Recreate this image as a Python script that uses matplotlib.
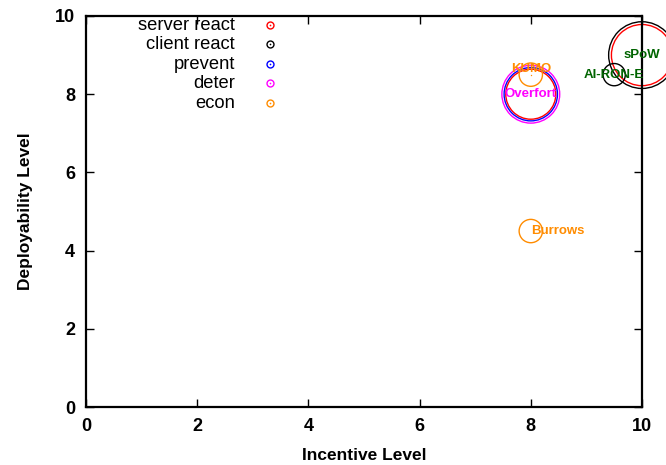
import matplotlib
matplotlib.use('Agg')
import matplotlib.pyplot as plt
from matplotlib.patches import Ellipse

plt.rcParams['font.family'] = ['Liberation Sans', 'DejaVu Sans']

# Series: centres (incentive, deployability) and circle radius in x units
series_names = ['server react', 'client react', 'prevent', 'deter', 'econ']
series_colors = ['#ff0000', '#000000', '#0000ff', '#ff00ff', '#ff8c00']
series_x = [[10, 8], [10, 9.5], [8], [8], [8, 8]]
series_y = [[9, 8], [9, 8.5], [8], [8], [8.5, 4.5]]
series_r = [[0.55, 0.45], [0.6, 0.2], [0.48], [0.52], [0.21, 0.21]]

# Point labels
label_text = ['KUMO', 'Overfort', 'Burrows', 'sPoW', 'AI-RON-E']
label_x = [8, 8, 8, 10, 9.5]
label_y = [8.65, 8, 4.5, 9, 8.5]
label_color = ['#ff8c00', '#ff00ff', '#ff8c00', '#006400', '#006400']
label_ha = ['center', 'center', 'left', 'center', 'center']

W, H = 666, 465
fig = plt.figure(figsize=(W / 100, H / 100), dpi=100)
ax = fig.add_axes([86 / W, (H - 407) / H, (642 - 86) / W, (407 - 16) / H])
ax.set_xlim(0, 10)
ax.set_ylim(0, 10)

# keep circles round on screen: radius measured in x units
px_x = (642 - 86) / 10
px_y = (407 - 16) / 10
for name, col, xs, ys, rs in zip(series_names, series_colors, series_x, series_y, series_r):
    for x, y, r in zip(xs, ys, rs):
        ax.add_patch(Ellipse((x, y), 2 * r, 2 * r * px_x / px_y, fill=False,
                             edgecolor=col, lw=1, clip_on=False))

# small centre dot of the KUMO circle
ax.plot([series_x[4][0]], [series_y[4][0]], ls='none', marker='o', ms=1,
        mew=0, color=series_colors[4])

for t, x, y, c, ha in zip(label_text, label_x, label_y, label_color, label_ha):
    ax.text(x, y, t, color=c, ha=ha, va='center', fontsize=9.5, fontweight='bold',
            clip_on=False)

# gnuplot-like key
for i, (name, col) in enumerate(zip(series_names, series_colors)):
    ty = 1 - (25 + i * 19.5) / H
    fig.text(235 / W, ty, name, ha='right', va='center', fontsize=13.2)
    fig.lines.append(plt.Line2D([270 / W], [ty], transform=fig.transFigure, marker='o',
                                ms=5, mfc='none', mec=col, mew=1, ls='none'))
    fig.lines.append(plt.Line2D([270 / W], [ty], transform=fig.transFigure, marker='o',
                                ms=1.2, mew=0, color=col, ls='none'))

ax.set_xticks([0, 2, 4, 6, 8, 10])
ax.set_yticks([0, 2, 4, 6, 8, 10])
ax.tick_params(direction='in', length=6, width=1, top=True, right=True,
               labelsize=13, pad=8)
for lab in ax.get_xticklabels() + ax.get_yticklabels():
    lab.set_fontweight('bold')
for s in ax.spines.values():
    s.set_linewidth(1.6)

ax.set_xlabel('Incentive Level', fontsize=12.5, fontweight='bold', labelpad=9)
ax.set_ylabel('Deployability Level', fontsize=12.5, fontweight='bold', labelpad=16)

fig.savefig('out.png', dpi=100)
